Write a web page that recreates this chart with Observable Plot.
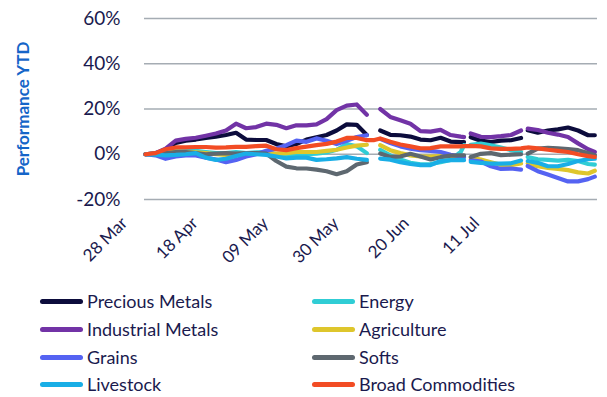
<!DOCTYPE html>
<html><head><meta charset="utf-8">
<script src="https://cdn.jsdelivr.net/npm/d3@7"></script>
<script src="https://cdn.jsdelivr.net/npm/@observablehq/plot@0.6"></script>
<style>
body{margin:0;background:#fff;font-family:Lato,sans-serif;}
#chart svg{display:block}
.legend{position:relative;height:114px;width:607px;}
.item{position:absolute;display:flex;align-items:center;font-size:18px;color:#1a1a4e;height:28px;white-space:nowrap;}
.sw{width:43px;height:5px;border-radius:3px;margin-right:4px;}
</style></head><body>
<div id="chart"></div>
<div class="legend" id="legend"></div>
<script>
const dates = ["2024-03-28","2024-03-31","2024-04-03","2024-04-06","2024-04-09","2024-04-12","2024-04-15","2024-04-18","2024-04-21","2024-04-24","2024-04-27","2024-04-30","2024-05-03","2024-05-06","2024-05-09","2024-05-12","2024-05-15","2024-05-18","2024-05-21","2024-05-24","2024-05-27","2024-05-30","2024-06-02","2024-06-04","2024-06-06","2024-06-09","2024-06-12","2024-06-15","2024-06-18","2024-06-21","2024-06-24","2024-06-27","2024-06-30","2024-07-01","2024-07-02","2024-07-03","2024-07-06","2024-07-09","2024-07-12","2024-07-15","2024-07-18","2024-07-19","2024-07-20","2024-07-23","2024-07-26","2024-07-29","2024-08-01","2024-08-04","2024-08-07","2024-08-09"];

const precious = [0,0.3,2,5,6,6.5,7.2,7.8,8.5,9.5,6.5,6.3,6.3,4.5,3.5,4.5,6.5,7.5,8.5,10.5,13.2,13,8.5, null, 10.5,8.6,8.4,7.8,6.5,6.2,7.3,5.6,5.4,5.4, null, 7.5,6,5.4,6,6.2,7.2, null, 10.6,9.5,10.5,11,11.8,10.5,8.4,8.4];
const energy = [0,0.5,1.8,2,1.5,1.5,1,0.5,0.5,1,0.5,0.8,1,0,-0.5,-0.5,0,0.3,0.8,2,4.5,3.5,0.5, null, 2,-0.5,-2.3,-3.8,-4.5,-4.3,-3.5,-2.5,1,4, null, 4.2,4.7,4,3,1.8,1, null, -1.2,-2.2,-2.5,-2.8,-2.5,-3,-4.3,-4.6];
const industrial = [0,0.5,2.5,6,6.8,7.3,8.2,9.2,10.5,13.5,11.5,12,13.5,13,11.5,12.8,12.8,13.2,15.5,19.5,21.5,22,17.5, null, 20,16.5,15,13.5,10.2,10,10.8,8.5,7.8,7.6, null, 9.2,7.7,7.6,8,8.5,10.5, null, 11.3,10.7,9.5,8.7,7.6,4.8,2.2,1];
const agriculture = [0,0.3,1,1.2,1,0.8,0.5,0,-0.3,0,0.3,0.5,0.5,0.3,0.5,1,1,1,1.5,2,3,3.8,4.2, null, 4,1.8,0.5,-0.5,-1,-1,-0.8,-1,-1.2,-1.2, null, -1.5,-2.3,-3.5,-4.7,-4.8,-4.1, null, -4,-5.3,-6,-6.5,-7,-8,-8.5,-7.3];
const grains = [0,-0.5,-2,-1,-0.5,-0.5,-1.5,-2.3,-3.5,-2.5,-1,0,1.5,2.5,4,6,5.5,7,6,4.5,6,7.6,8.4, null, 6.8,5,3.5,2.5,1.8,1.5,1,-0.2,-1,-1.2, null, -2.6,-3.2,-5.3,-6.5,-6.3,-6.8, null, -5.2,-7.5,-9,-10.5,-12,-12,-11,-9.9];
const softs = [0,0,0.5,1,1,0.5,0,0.3,0.5,0.3,0.5,0.5,0.3,-3,-5.5,-6.2,-6.3,-6.8,-7.5,-8.8,-7.5,-4.5,-3.5, null, 0.3,-1.2,-1,0.2,-1,-2.3,-1.3,-0.6,-0.5,-0.5, null, -1.2,0.2,0.5,-0.4,-0.2,0, null, 0.3,2.5,2.8,2.6,2.3,1.8,0.5,-0.4];
const livestock = [0,-0.2,-0.5,-0.3,0,0.5,-1.5,-2.5,-2,-0.8,0.3,0,-0.3,-1,-1.8,-1.5,-1.5,-2.5,-2.2,-1.8,-1.3,-2,-2.5, null, -1.9,-2.4,-3.5,-4.3,-4.8,-4.8,-3,-2.6,-2.6,-2.6, null, -3.4,-3.8,-4.1,-4.1,-4,-2.8, null, -3,-3.8,-5.3,-5.3,-4.3,-3,-2.2,-2];
const broad = [0,0.5,2.2,3,3,3.2,3.2,2.9,3,3.3,3.3,3.6,3.8,2.2,1.8,2.7,3.4,4,4.6,5.6,7.2,7.2,6.2, 6.2, 7,5.5,4.3,3.5,2.6,2.7,3.5,3.5,3.5,3.6, 3.6, 3.7,3.5,2.6,2.4,2.4,2.6, 2.8, 3,2.6,2,1.5,1,0,-0.8,-1.2];

const series = ["Precious Metals","Energy","Industrial Metals","Agriculture","Grains","Softs","Livestock","Broad Commodities"];
const colors = ["#0c0c3c","#30cdd5","#7233a6","#dec62c","#5563f2","#5e6870","#19aee6","#f24c24"];
const xTickDates = ["2024-03-28","2024-04-18","2024-05-09","2024-05-30","2024-06-20","2024-07-11"];
const xTickLabels = ["28 Mar","18 Apr","09 May","30 May","20 Jun","11 Jul"];
const yTicks = [-20,0,20,40,60];
const yTitle = "Performance YTD";

const values = [precious, energy, industrial, agriculture, grains, softs, livestock, broad];
const rows = [];
series.forEach((s, i) => dates.forEach((d, j) => rows.push({date: new Date(d), series: s, value: values[i][j]})));
const tickDates = xTickDates.map(d => new Date(d));
const labelMap = new Map(tickDates.map((d, i) => [+d, xTickLabels[i]]));

const day = 864e5;
const x0 = new Date(+new Date(dates[0]) - 0.3 * day);
const x1 = new Date(+x0 + 135.1 * day);

const chart = Plot.plot({
  width: 607, height: 283,
  marginLeft: 144, marginRight: 10, marginTop: 18, marginBottom: 84,
  style: {fontFamily: "Lato, sans-serif", fontSize: "18px", color: "#1a1a4e", background: "white"},
  x: {type: "utc", domain: [x0, x1]},
  y: {domain: [-20, 60]},
  color: {domain: series, range: colors},
  marks: [
    Plot.gridY(yTicks, {stroke: "#a5acb3", strokeOpacity: 1, strokeWidth: 1.6}),
    Plot.axisY(yTicks, {tickSize: 0, tickPadding: 24, tickFormat: d => d + "%", label: null, fontSize: 19, fill: "#1a1a4e"}),
    Plot.axisX(tickDates, {tickSize: 0, tickRotate: -45, tickFormat: d => labelMap.get(+d), label: null, fontSize: 17, fill: "#1a1a4e", dx: -21, dy: 9}),
    Plot.text([yTitle], {frameAnchor: "left", textAnchor: "middle", lineAnchor: "middle", dx: -121, rotate: -90, fill: "#1565c8", fontWeight: "bold", fontSize: 17}),
    Plot.lineY(rows, {x: "date", y: "value", z: "series", stroke: "series", strokeWidth: 4.2, strokeLinejoin: "round", strokeLinecap: "round"})
  ]
});
document.getElementById("chart").appendChild(chart);

const legend = document.getElementById("legend");
const centers = [301, 329, 357, 384];
series.forEach((s, i) => {
  const col = i % 2, row = Math.floor(i / 2);
  const el = document.createElement("div");
  el.className = "item";
  el.style.left = (col === 0 ? 40 : 312) + "px";
  el.style.top = (centers[row] - 14 - 283) + "px";
  el.innerHTML = `<span class="sw" style="background:${colors[i]}"></span><span>${s}</span>`;
  legend.appendChild(el);
});
</script>
</body></html>
